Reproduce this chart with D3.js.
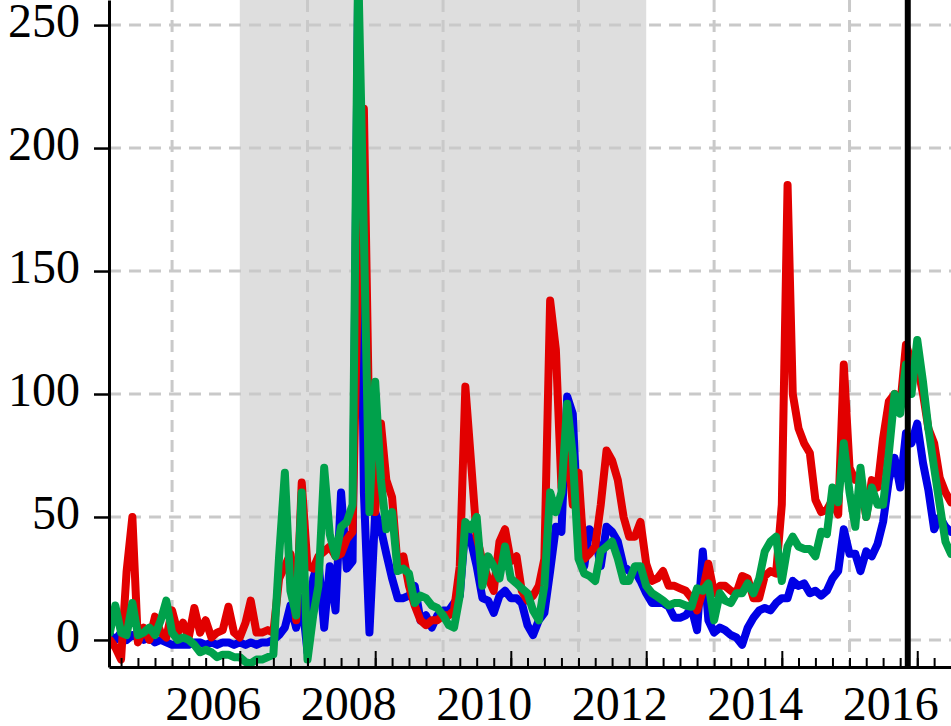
<!DOCTYPE html>
<html>
<head>
<meta charset="utf-8">
<style>
body { margin: 0; background: #fff; }
svg { display: block; }
text { font-family: "Liberation Serif", "Times New Roman", serif; }
</style>
</head>
<body>
<svg width="951" height="726"></svg>
<script src="https://cdn.jsdelivr.net/npm/d3@7/dist/d3.min.js"></script>
<script>
// monthly values, first month Feb 2004
var firstMonth = new Date(2004, 1, 1);

var red = [
    0, -3, -8, 28, 50, -1, 5, 0, 9.5, 3,
    1, 12, 3, 7, 1, 13, 3, 8, 1, 3,
    4, 13.5, 3, 1, 7, 16, 3, 3, 4, 3,
    25, 30, 35, 8, 64, 30, 29, 34, 36, 38,
    34, 35, 41, 44, 150, 216, 80, 52, 88, 65,
    58, 30, 34, 22, 14, 8, 6, 8, 8, 10,
    10, 12, 30, 103, 72, 42, 32, 25, 20, 40,
    45, 32, 34, 20, 16, 18, 22, 33, 138, 118,
    62, 80, 55, 68, 33, 35, 38, 55, 77, 73,
    65, 50, 42, 42, 48, 31, 24, 25, 28, 22,
    22, 21, 20, 17, 12, 20, 31, 19, 22, 22,
    20, 19, 26, 25, 17, 17, 26, 28, 27, 55,
    185, 100, 86, 80, 76, 57, 52, 53, 57, 51,
    112, 70, 65, 65, 50, 65, 62, 82, 97, 100,
    95, 120, 113, 112, 100, 86, 80, 66, 60, 56
];

var blue = [
    2, 0, 3, 0, 2, 1, 0, 1, -1, 0,
    -1, -2, -2, -2, -2, -1, -1, -2, -1, -2,
    -1, -1, -2, -1, -2, -1, -2, -1, -1, 0,
    2, 5, 14, 5, 17, -5, 25, 32, 5, 30,
    12, 60, 29, 32, 265, 60, 3, 52, 45, 35,
    25, 17, 17, 18, 22, 8, 10, 5, 10, 12,
    12, 15, 18, 46, 40, 30, 17, 16, 11, 18,
    20, 17, 17, 15, 6, 2, 8, 11, 28, 46,
    44, 99, 92, 40, 30, 45, 42, 30, 46, 44,
    40, 30, 28, 28, 24, 19, 15, 15, 15, 13.5,
    9, 9, 10, 13, 4, 36, 8, 3, 5, 4,
    2, 1, -2, 5, 9, 12, 13, 12, 15, 17,
    17, 24, 22, 23, 19, 20, 18, 20, 25, 28,
    45, 35, 35, 28, 36, 34, 39, 48, 65, 74,
    62, 84, 80, 88, 72, 61, 45, 50, 46, 44
];

var green = [
    3, 14, 3, 2, 15, 2, 3, 5, 2, 8,
    16, 3, 0, 1, 0, -2, -5, -4, -5, -7,
    -6, -6, -7, -7, -9, -9.5, -8, -8, -7, -6,
    34, 68, 20, 10, 60, -8, 10, 22, 70, 43,
    34, 46, 48, 55, 275, 165, 52, 105, 65, 45,
    52, 28, 29, 27, 15, 18, 17, 14, 13, 10,
    6, 5, 18, 48, 45, 50, 22, 34, 30, 25,
    38, 25, 23, 21, 19, 12, 8, 22, 60, 52,
    60, 96, 75, 33, 27, 26, 24, 36, 38, 40,
    33, 24, 24, 30, 30, 22, 19, 17.6, 16, 14,
    15, 15, 14, 13.5, 21, 20, 23, 8, 19, 16,
    15, 19, 19, 23, 19, 25, 36, 40, 42, 24,
    38, 42, 38, 37, 37, 34, 44, 43, 62, 56,
    80, 60, 46, 70, 50, 62, 55, 55, 76, 100,
    92, 112, 100, 122, 105, 86, 70, 55, 40, 35
];

var yTicks = [0, 50, 100, 150, 200, 250];
var labelYears = [2006, 2008, 2010, 2012, 2014, 2016];
var gridYears = [2005, 2007, 2009, 2011, 2013, 2015];
var shadeRange = [new Date(2006, 0, 1), new Date(2012, 0, 1)];
var eventDate = new Date(2015, 10, 11);

var svg = d3.select("svg"),
    left = 109,
    right = 951,
    bottom = 667;

var months = d3.timeMonth.range(firstMonth, d3.timeMonth.offset(firstMonth, red.length));

var x = d3.scaleTime()
    .domain([new Date(2004, 0, 27), new Date(2016, 6, 1)])
    .range([left, right]);

var y = d3.scaleLinear()
    .domain([-11, 260.2])
    .range([bottom, 0]);

svg.append("defs").append("clipPath")
    .attr("id", "plot")
  .append("rect")
    .attr("x", left)
    .attr("y", 0)
    .attr("width", right - left)
    .attr("height", bottom);

// shaded period
svg.append("rect")
    .attr("x", x(shadeRange[0]))
    .attr("y", 0)
    .attr("width", x(shadeRange[1]) - x(shadeRange[0]))
    .attr("height", bottom)
    .attr("fill", "#dedede");

// grid
var grid = svg.append("g")
    .attr("stroke", "#c9c9c9")
    .attr("stroke-width", 3)
    .attr("stroke-dasharray", "12,8");

grid.selectAll(".hg")
    .data(yTicks)
  .enter().append("line")
    .attr("x1", left)
    .attr("x2", right)
    .attr("y1", function(d) { return y(d); })
    .attr("y2", function(d) { return y(d); });

grid.selectAll(".vg")
    .data(gridYears)
  .enter().append("line")
    .attr("x1", function(d) { return x(new Date(d, 0, 1)); })
    .attr("x2", function(d) { return x(new Date(d, 0, 1)); })
    .attr("y1", 0)
    .attr("y2", bottom);

// series
var line = d3.line()
    .x(function(d, i) { return x(months[i]); })
    .y(function(d) { return y(d); });

var plot = svg.append("g")
    .attr("clip-path", "url(#plot)");

[[blue, "#0000e6"], [red, "#e20000"], [green, "#00a14b"]].forEach(function(s) {
    plot.append("path")
        .datum(s[0])
        .attr("d", line)
        .attr("fill", "none")
        .attr("stroke", s[1])
        .attr("stroke-width", 8)
        .attr("stroke-linejoin", "round")
        .attr("stroke-linecap", "round");
});

// event marker
svg.append("line")
    .attr("x1", x(eventDate))
    .attr("x2", x(eventDate))
    .attr("y1", 0)
    .attr("y2", bottom)
    .attr("stroke", "#000")
    .attr("stroke-width", 6);

// x axis: quarterly minor ticks, even-year major ticks
var quarters = d3.timeMonth.every(3).range(new Date(2004, 2, 1), new Date(2016, 6, 1));

svg.append("g")
    .attr("transform", "translate(0," + bottom + ")")
    .call(d3.axisBottom(x).tickValues(quarters).tickSize(-9).tickSizeOuter(0).tickFormat(""))
    .call(function(g) {
        g.select(".domain").attr("stroke-width", 3);
        g.selectAll(".tick line").attr("stroke-width", 2);
    });

svg.append("g")
    .attr("transform", "translate(0," + bottom + ")")
    .call(d3.axisBottom(x)
        .tickValues(labelYears.map(function(d) { return new Date(d, 0, 1); }))
        .tickSize(-16)
        .tickSizeOuter(0)
        .tickFormat(d3.timeFormat("%Y")))
    .call(function(g) {
        g.select(".domain").remove();
        g.selectAll(".tick line").attr("stroke-width", 2);
        g.selectAll(".tick text")
            .attr("y", 53)
            .attr("dy", null)
            .attr("dx", -27)
            .attr("fill", "#000")
            .style("font-size", "48px");
    });

// y axis
svg.append("g")
    .attr("transform", "translate(" + left + ",0)")
    .call(d3.axisLeft(y).tickValues(yTicks).tickSize(15).tickPadding(14).tickSizeOuter(0))
    .call(function(g) {
        g.select(".domain").attr("stroke-width", 3);
        g.selectAll(".tick line").attr("stroke-width", 2.5);
        g.selectAll(".tick text")
            .attr("dy", "0.24em")
            .attr("fill", "#000")
            .style("font-size", "48px");
    });
</script>
</body>
</html>
